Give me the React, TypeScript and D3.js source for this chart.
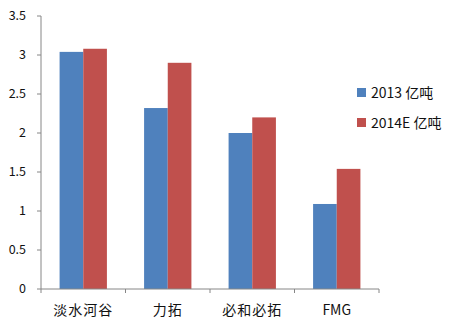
import React from "react";
import * as d3 from "d3";

const categories = ["淡水河谷", "力拓", "必和必拓", "FMG"];
const series2013 = [3.04, 2.32, 2.0, 1.09];
const series2014E = [3.08, 2.9, 2.2, 1.54];
const seriesNames = ["2013 亿吨", "2014E 亿吨"];
const yTicks = [0, 0.5, 1, 1.5, 2, 2.5, 3, 3.5];
const colors = ["#4F81BD", "#C0504D"];

export default function App() {
  const W = 470, H = 332;
  const x0 = 41, x1 = 379, yTop = 16, yBot = 289;
  const x = d3.scaleBand<string>().domain(categories).range([x0, x1]).paddingInner(0).paddingOuter(0);
  const y = d3.scaleLinear().domain([0, 3.5]).range([yBot, yTop]);
  const groupW = x.bandwidth() * 0.56;
  const inner = d3.scaleBand<number>().domain([0, 1]).range([0, groupW]);
  const data = [series2013, series2014E];
  const font = "'Noto Sans CJK SC', 'Noto Sans', sans-serif";
  const tickPositions = [...categories.map((c) => x(c)!), x1];
  return (
    <svg width={W} height={H} style={{ position: "absolute", left: 0, top: 0, background: "#fff" }}>
      {/* bars */}
      {categories.map((c, i) => {
        const gx = x(c)! + (x.bandwidth() - groupW) / 2;
        return data.map((s, k) => (
          <rect
            key={c + k}
            x={gx + inner(k)!}
            y={y(s[i])}
            width={inner.bandwidth()}
            height={yBot - y(s[i])}
            fill={colors[k]}
          />
        ));
      })}
      {/* y axis */}
      <line x1={x0} x2={x0} y1={yTop} y2={yBot} stroke="#868686" strokeWidth={1} />
      {yTicks.map((t) => (
        <g key={t}>
          <line x1={x0 - 4} x2={x0} y1={y(t)} y2={y(t)} stroke="#868686" />
          <text x={x0 - 15} y={y(t)} dy="0.35em" textAnchor="end" fontSize={12.5} fontFamily={font} fill="#111">
            {t}
          </text>
        </g>
      ))}
      {/* x axis */}
      <line x1={x0} x2={x1} y1={yBot} y2={yBot} stroke="#868686" strokeWidth={1} />
      {tickPositions.map((p, i) => (
        <line key={i} x1={p} x2={p} y1={yBot} y2={yBot + 4} stroke="#868686" />
      ))}
      {categories.map((c) => (
        <text
          key={c}
          x={x(c)! + x.bandwidth() / 2}
          y={310}
          dy="0.35em"
          textAnchor="middle"
          fontSize={14}
          fontFamily={font}
          fill="#111"
          letterSpacing={c === "FMG" ? 0 : 1}
        >
          {c}
        </text>
      ))}
      {/* legend */}
      {seriesNames.map((n, k) => (
        <g key={n}>
          <rect x={357} y={88 + k * 30} width={9} height={9} fill={colors[k]} />
          <text x={371} y={93 + k * 30} dy="0.35em" fontSize={14} fontFamily={font} fill="#111">
            {n}
          </text>
        </g>
      ))}
    </svg>
  );
}
